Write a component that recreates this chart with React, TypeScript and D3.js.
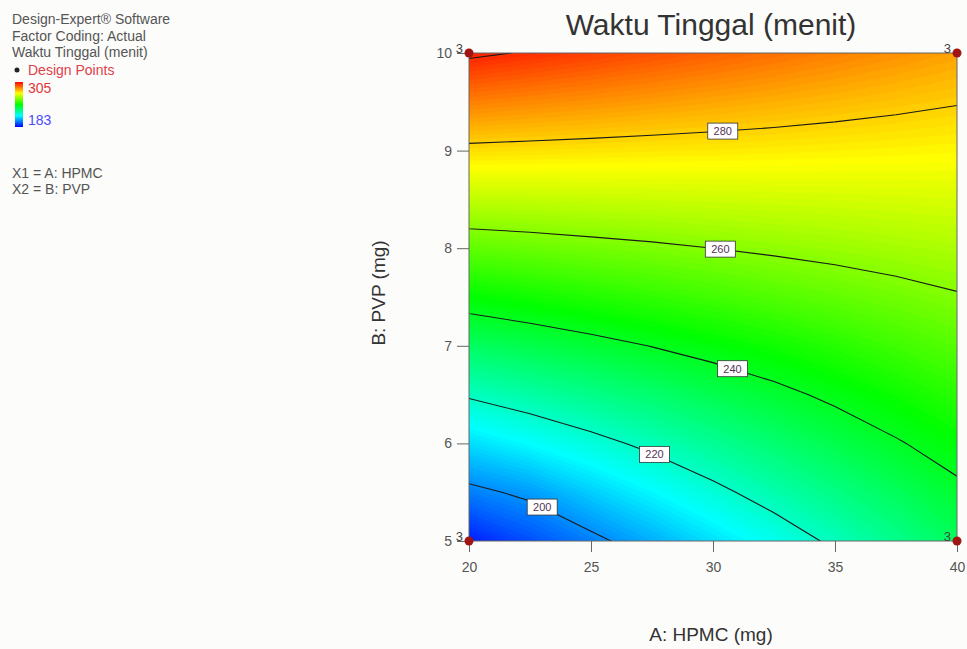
import * as d3 from 'd3';
import { useEffect, useRef } from 'react';

// grid: columns = HPMC (mg), rows = PVP (mg)
const hpmc = [20, 22.5, 25, 27.5, 30, 32.5, 35, 37.5, 40];
const pvp = [5, 5.5, 6, 6.5, 7, 7.5, 8, 8.5, 9, 9.5, 10];
const waktu = [
    [186.5, 192.3, 198.1, 203.9, 209.8, 215.6, 221.4, 227.2, 233.0],
    [198.0, 201.7, 207.6, 212.9, 218.1, 223.2, 228.2, 233.2, 238.3],
    [209.5, 213.5, 217.6, 221.8, 226.2, 230.6, 235.0, 239.3, 243.5],
    [220.9, 224.2, 227.6, 231.0, 234.5, 238.0, 241.6, 245.2, 248.8],
    [232.4, 235.0, 237.6, 240.2, 242.9, 245.5, 248.4, 251.3, 254.1],
    [243.9, 245.8, 247.8, 249.7, 251.6, 253.6, 255.5, 257.4, 259.4],
    [255.4, 256.5, 257.7, 258.8, 260.0, 261.2, 262.3, 263.5, 264.6],
    [266.9, 267.2, 267.6, 268.0, 268.4, 268.8, 269.1, 269.5, 269.9],
    [278.3, 277.9, 277.5, 277.1, 276.8, 276.4, 276.0, 275.6, 275.2],
    [289.8, 288.6, 287.5, 286.3, 285.1, 284.0, 282.8, 281.6, 280.4],
    [301.3, 299.4, 297.4, 295.5, 293.5, 291.6, 289.6, 287.7, 285.7],
];

const contourLevels = [200, 220, 240, 260, 280, 300];
const labelLevels = [200, 220, 240, 260, 280];
const labelAtHpmc = [23, 27.6, 30.8, 30.3, 30.4];

const xTicks = [20, 25, 30, 35, 40];
const yTicks = [5, 6, 7, 8, 9, 10];

const pointHpmc = [20, 20, 40, 40];
const pointPvp = [5, 10, 5, 10];
const pointCount = [3, 3, 3, 3];

const legendMin = 183;
const legendMax = 305;
const legendLines = ['Design-Expert® Software', 'Factor Coding: Actual', 'Waktu Tinggal (menit)'];
const factorLines = ['X1 = A: HPMC', 'X2 = B: PVP'];

const FONT = 'Arial, "Liberation Sans", sans-serif';

export default function App() {
    const svgRef = useRef<SVGSVGElement>(null);

    useEffect(() => {
        drawChart(svgRef.current);
    }, []);

    return (
        <svg ref={svgRef} width={967} height={649}
            style={{ position: 'absolute', left: 0, top: 0, background: '#fcfcfa' }} />
    );
}

function drawChart(el: SVGSVGElement | null) {
    if (!el) return;
    const svg = d3.select(el);
    svg.selectAll('*').remove();

    const left = 469, right = 957, top = 53, bottom = 541;

    const x = d3.scaleLinear().domain([20, 40]).range([left, right]);
    const y = d3.scaleLinear().domain([5, 10]).range([bottom, top]);

    const nx = hpmc.length, ny = pvp.length;
    // d3.contours puts sample i at grid coordinate i + 0.5
    const gx = d3.scaleLinear().domain([0.5, nx - 0.5]).range([hpmc[0], hpmc[nx - 1]]);
    const gy = d3.scaleLinear().domain([0.5, ny - 0.5]).range([pvp[0], pvp[ny - 1]]);

    const proj = d3.geoTransform({
        point(px: number, py: number) {
            (this as any).stream.point(x(gx(px)), y(gy(py)));
        }
    });
    const path = d3.geoPath(proj);
    const values = waktu.flat();

    const color = d3.scaleLinear<string>()
        .domain([183, 213.5, 244, 274.5, 305])
        .range(['#0000ff', '#00ffff', '#00ff00', '#ffff00', '#ff0000'])
        .clamp(true);

    const defs = svg.append('defs');
    defs.append('clipPath').attr('id', 'plotClip')
        .append('rect')
        .attr('x', left).attr('y', top)
        .attr('width', right - left).attr('height', bottom - top);

    // filled surface, thin bands
    const plot = svg.append('g').attr('clip-path', 'url(#plotClip)');
    plot.append('rect')
        .attr('x', left).attr('y', top)
        .attr('width', right - left).attr('height', bottom - top)
        .attr('fill', color(d3.min(values)!));

    const bandLevels = d3.range(Math.ceil(d3.min(values)!), Math.ceil(d3.max(values)!), 1);
    const bands = d3.contours().size([nx, ny]).thresholds(bandLevels)(values);
    plot.selectAll('path.band')
        .data(bands)
        .enter()
        .append('path')
        .attr('class', 'band')
        .attr('d', d => path(d as any))
        .attr('fill', d => color(d.value + 0.5))
        .attr('stroke', d => color(d.value + 0.5))
        .attr('stroke-width', 0.6);

    const lines = d3.contours().size([nx, ny]).thresholds(contourLevels)(values);
    plot.selectAll('path.iso')
        .data(lines)
        .enter()
        .append('path')
        .attr('class', 'iso')
        .attr('d', d => path(d as any))
        .attr('fill', 'none')
        .attr('stroke', '#1a1a1a')
        .attr('stroke-width', 1.1);

    // border
    svg.append('rect')
        .attr('x', left).attr('y', top)
        .attr('width', right - left).attr('height', bottom - top)
        .attr('fill', 'none')
        .attr('stroke', '#666')
        .attr('stroke-width', 1);

    // contour labels
    function pvpOnLine(level: number, a: number) {
        const c = lines.find(l => l.value === level);
        if (!c) return null;
        for (const poly of c.coordinates) for (const ring of poly) {
            for (let i = 1; i < ring.length; i++) {
                const a0 = gx(ring[i - 1][0]), a1 = gx(ring[i][0]);
                const b0 = gy(ring[i - 1][1]), b1 = gy(ring[i][1]);
                if (a0 !== a1 && (a0 - a) * (a1 - a) <= 0) {
                    const b = b0 + (b1 - b0) * (a - a0) / (a1 - a0);
                    if (b > 5 && b < 10) return b;
                }
            }
        }
        return null;
    }

    const labels = svg.append('g');
    labelLevels.forEach((lv, i) => {
        const a = labelAtHpmc[i];
        const b = pvpOnLine(lv, a);
        if (b == null) return;
        const g = labels.append('g').attr('transform', `translate(${x(a)},${y(b)})`);
        g.append('rect')
            .attr('x', -15).attr('y', -8)
            .attr('width', 30).attr('height', 16)
            .attr('fill', '#fff')
            .attr('stroke', '#333')
            .attr('stroke-width', 0.8);
        g.append('text')
            .attr('text-anchor', 'middle')
            .attr('dy', '0.35em')
            .attr('font-family', FONT)
            .attr('font-size', 11)
            .attr('fill', '#553355')
            .text(lv);
    });

    // axes
    const xAxis = d3.axisBottom(x).tickValues(xTicks).tickFormat(d3.format('d')).tickSize(11).tickPadding(10);
    const yAxis = d3.axisLeft(y).tickValues(yTicks).tickFormat(d3.format('d')).tickSize(12).tickPadding(5);

    const gxAxis = svg.append('g').attr('transform', `translate(0,${bottom})`).call(xAxis);
    const gyAxis = svg.append('g').attr('transform', `translate(${left},0)`).call(yAxis);
    [gxAxis, gyAxis].forEach(g => {
        g.select('.domain').remove();
        g.selectAll('line').attr('stroke', '#666');
        g.selectAll('text')
            .attr('font-family', FONT)
            .attr('font-size', 14)
            .attr('fill', '#555');
    });

    // design points
    pointHpmc.forEach((a, i) => {
        const px = x(a), py = y(pointPvp[i]);
        svg.append('circle')
            .attr('cx', px).attr('cy', py).attr('r', 4.5)
            .attr('fill', '#a01414');
        svg.append('text')
            .attr('x', px - 6).attr('y', py)
            .attr('text-anchor', 'end')
            .attr('font-family', FONT)
            .attr('font-size', 13)
            .attr('fill', '#444')
            .text(pointCount[i]);
    });

    // titles
    svg.append('text')
        .attr('x', (left + right) / 2 - 2).attr('y', 35)
        .attr('text-anchor', 'middle')
        .attr('font-family', FONT)
        .attr('font-size', 30)
        .attr('fill', '#333')
        .text('Waktu Tinggal (menit)');

    svg.append('text')
        .attr('x', 711).attr('y', 641)
        .attr('text-anchor', 'middle')
        .attr('font-family', FONT)
        .attr('font-size', 19)
        .attr('fill', '#333')
        .text('A: HPMC (mg)');

    svg.append('text')
        .attr('transform', `translate(385,293) rotate(-90)`)
        .attr('text-anchor', 'middle')
        .attr('font-family', FONT)
        .attr('font-size', 19)
        .attr('fill', '#333')
        .text('B: PVP (mg)');

    // legend
    const leg = svg.append('g').attr('font-family', FONT).attr('font-size', 14);
    legendLines.forEach((t, i) => {
        leg.append('text').attr('x', 12).attr('y', 24 + i * 16.5).attr('fill', '#555').text(t);
    });
    leg.append('circle').attr('cx', 17).attr('cy', 70).attr('r', 2.5).attr('fill', '#222');
    leg.append('text').attr('x', 28).attr('y', 75).attr('fill', '#e0404a').text('Design Points');

    const grad = defs.append('linearGradient').attr('id', 'legGrad')
        .attr('x1', 0).attr('y1', 1).attr('x2', 0).attr('y2', 0);
    d3.range(0, 1.0001, 0.25).forEach(t => {
        grad.append('stop')
            .attr('offset', t)
            .attr('stop-color', color(legendMin + t * (legendMax - legendMin)));
    });
    leg.append('rect').attr('x', 15).attr('y', 82).attr('width', 8).attr('height', 45)
        .attr('fill', 'url(#legGrad)');
    leg.append('text').attr('x', 28).attr('y', 93).attr('fill', '#e03838').text(legendMax);
    leg.append('text').attr('x', 28).attr('y', 125).attr('fill', '#4a4aff').text(legendMin);

    factorLines.forEach((t, i) => {
        leg.append('text').attr('x', 12).attr('y', 178 + i * 16).attr('fill', '#555').text(t);
    });
}
